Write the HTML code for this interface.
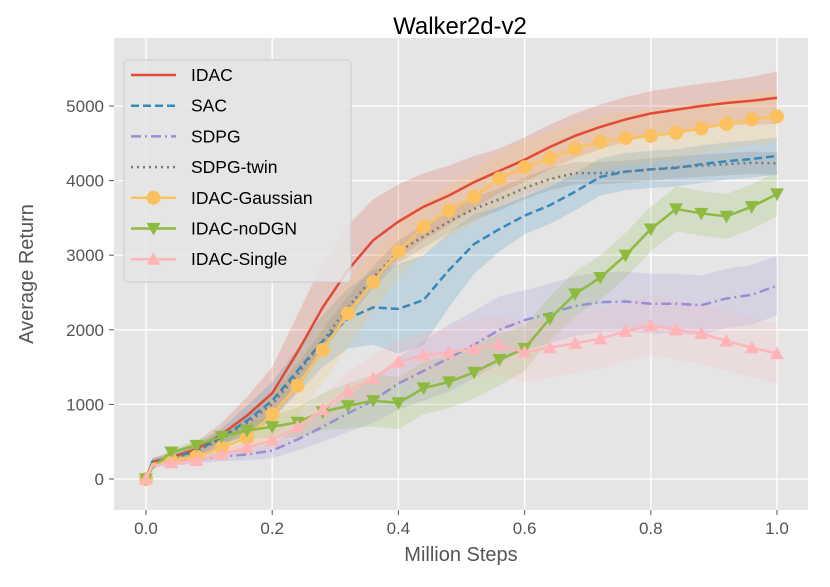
<!DOCTYPE html>
<html><head><meta charset="utf-8"><style>
body{margin:0;background:#fff;}
svg text{font-family:"Liberation Sans","DejaVu Sans",sans-serif;}
</style></head><body>
<svg id="chart" width="830" height="582" xmlns="http://www.w3.org/2000/svg">
<rect x="114" y="38" width="694" height="472" fill="#e5e5e5"/>
<g id="grid"></g><g id="bands"></g><g id="lines"></g><g id="ticks"></g>
<text x="460" y="34" font-size="24" text-anchor="middle" fill="#000">Walker2d-v2</text>
<text x="461" y="561" font-size="20" text-anchor="middle" fill="#555">Million Steps</text>
<text transform="translate(33,274) rotate(-90)" font-size="20" text-anchor="middle" fill="#555">Average Return</text>
<g id="legend"></g>
</svg>
<script>
const xs=[0,0.01,0.04,0.08,0.12,0.16,0.2,0.24,0.28,0.32,0.36,0.40,0.44,0.48,0.52,0.56,0.60,0.64,0.68,0.72,0.76,0.80,0.84,0.88,0.92,0.96,1.0];
const xTicks=[0,0.2,0.4,0.6,0.8,1.0];
const xTickLabels=["0.0","0.2","0.4","0.6","0.8","1.0"];
const yTicks=[0,1000,2000,3000,4000,5000];
const names=["IDAC","SAC","SDPG","SDPG-twin","IDAC-Gaussian","IDAC-noDGN","IDAC-Single"];
const idac=[0,230,290,400,600,850,1150,1700,2300,2800,3200,3450,3650,3800,3980,4130,4280,4450,4600,4720,4820,4900,4950,5000,5040,5070,5110];
const sac=[0,230,280,380,560,780,1050,1450,1850,2150,2300,2280,2400,2800,3150,3350,3530,3670,3850,4050,4120,4150,4170,4220,4260,4290,4330];
const sdpg=[0,190,220,260,300,330,380,530,700,880,1050,1280,1450,1620,1800,2000,2130,2220,2320,2370,2380,2350,2350,2330,2420,2470,2590];
const twin=[0,220,270,370,540,750,1000,1400,1850,2300,2700,3050,3250,3450,3620,3750,3900,4020,4100,4100,4120,4150,4180,4200,4220,4240,4230];
const gauss=[0,200,250,300,420,550,870,1250,1730,2220,2640,3050,3380,3600,3780,4030,4180,4300,4430,4520,4570,4600,4640,4700,4760,4820,4860];
const nodgn=[0,150,360,450,570,650,700,760,900,980,1050,1020,1220,1300,1430,1600,1750,2150,2480,2700,3000,3350,3620,3560,3520,3650,3820];
const single=[0,180,220,250,330,420,520,700,930,1180,1350,1570,1660,1690,1750,1800,1700,1760,1820,1880,1980,2060,2000,1950,1850,1760,1680];
const idacBand=[0,50,80,100,150,250,350,500,600,600,550,500,450,400,350,300,300,300,300,300,300,300,300,300,300,320,350];
const sacBand=[0,50,60,80,120,200,250,300,350,400,500,600,600,500,400,300,250,250,250,250,250,250,250,250,250,250,250];
const sdpgBand=[0,30,40,50,60,80,100,150,200,250,300,350,400,450,450,450,400,400,400,400,400,400,400,400,400,400,400];
const twinBand=[0,40,50,60,80,100,150,150,150,150,150,150,150,150,150,150,150,150,150,150,150,150,150,150,150,150,150];
const gaussBand=[0,50,60,80,100,200,300,400,450,450,400,350,350,350,350,350,350,350,350,350,350,350,350,350,350,350,350];
const nodgnBand=[0,40,50,60,80,100,150,200,250,300,350,350,350,350,350,350,300,300,300,300,300,300,300,300,300,300,300];
const singleBand=[0,30,40,50,60,80,120,160,200,250,300,300,300,350,400,400,400,400,400,400,400,400,400,400,400,400,400];

const NS="http://www.w3.org/2000/svg";
const X=v=>146+v*631, Y=v=>479-v*0.0746;
function mk(p,t,a){const e=document.createElementNS(NS,t);for(const k in a)e.setAttribute(k,a[k]);p.appendChild(e);return e;}
const grid=document.getElementById('grid'),ticks=document.getElementById('ticks');
xTicks.forEach((t,i)=>{
 const g=mk(grid,'line',{x1:X(t),x2:X(t),y1:38,y2:510,stroke:'#fff','stroke-width':1.3});
 
 
 mk(ticks,'line',{x1:X(t),x2:X(t),y1:510,y2:515,stroke:'#555'});
 const l=mk(ticks,'text',{x:X(t),y:534,'font-size':17,'text-anchor':'middle',fill:'#555'});l.textContent=xTickLabels[i];
 
 
});
yTicks.forEach(t=>{
 const g=mk(grid,'line',{x1:114,x2:808,y1:Y(t),y2:Y(t),stroke:'#fff','stroke-width':1.3});
 
 
 mk(ticks,'line',{x1:109,x2:114,y1:Y(t),y2:Y(t),stroke:'#555'});
 const l=mk(ticks,'text',{x:104,y:Y(t)+6,'font-size':17,'text-anchor':'end',fill:'#555'});l.textContent=String(t);
 
 
});
const series=[
 {d:idac,b:idacBand,c:'#E24A33',dash:'',m:null},
 {d:sac,b:sacBand,c:'#348ABD',dash:'8,4',m:null},
 {d:sdpg,b:sdpgBand,c:'#988ED5',dash:'10,4,2,4',m:null},
 {d:twin,b:twinBand,c:'#777777',dash:'2,4',m:null},
 {d:gauss,b:gaussBand,c:'#FBC15E',dash:'',m:'circle'},
 {d:nodgn,b:nodgnBand,c:'#8EBA42',dash:'',m:'down'},
 {d:single,b:singleBand,c:'#FFB5B8',dash:'',m:'up'}];
const bands=document.getElementById('bands'),lines=document.getElementById('lines');
function marker(p,type,x,y,c,s){
 if(type==='circle')return mk(p,'circle',{cx:x,cy:y,r:s,fill:c});
 if(type==='down')return mk(p,'polygon',{points:`${x-s},${y-s*0.8} ${x+s},${y-s*0.8} ${x},${y+s}`,fill:c});
 return mk(p,'polygon',{points:`${x-s},${y+s*0.8} ${x+s},${y+s*0.8} ${x},${y-s}`,fill:c});
}
series.forEach((s,k)=>{
 let up=xs.map((x,i)=>X(x)+','+Y(s.d[i]+s.b[i])),lo=xs.map((x,i)=>X(x)+','+Y(s.d[i]-s.b[i])).reverse();
 const b=mk(bands,'polygon',{points:up.concat(lo).join(' '),fill:s.c,'fill-opacity':0.2});
 
 
 const l=mk(lines,'polyline',{points:xs.map((x,i)=>X(x)+','+Y(s.d[i])).join(' '),fill:'none',stroke:s.c,'stroke-width':2.5,'stroke-dasharray':s.dash});
 
 
 if(s.m){xs.forEach((x,i)=>{if(i===1)return;const m=marker(lines,s.m,X(x),Y(s.d[i]),s.c,7);
  
  });}
});
const lg=document.getElementById('legend');
mk(lg,'rect',{x:124,y:60,width:227,height:222,rx:4,fill:'#e5e5e5','fill-opacity':0.85,stroke:'#ccc'});
series.forEach((s,k)=>{
 const y=75+k*30.7;
 const g=mk(lg,'g',{});
 
 
 mk(g,'line',{x1:131,x2:176,y1:y,y2:y,stroke:s.c,'stroke-width':2.5,'stroke-dasharray':s.dash});
 if(s.m)marker(g,s.m,153.5,y,s.c,7);
 const t=mk(g,'text',{x:191,y:y+6,'font-size':17.5,fill:'#000'});t.textContent=names[k];
});
</script>
</body></html>
